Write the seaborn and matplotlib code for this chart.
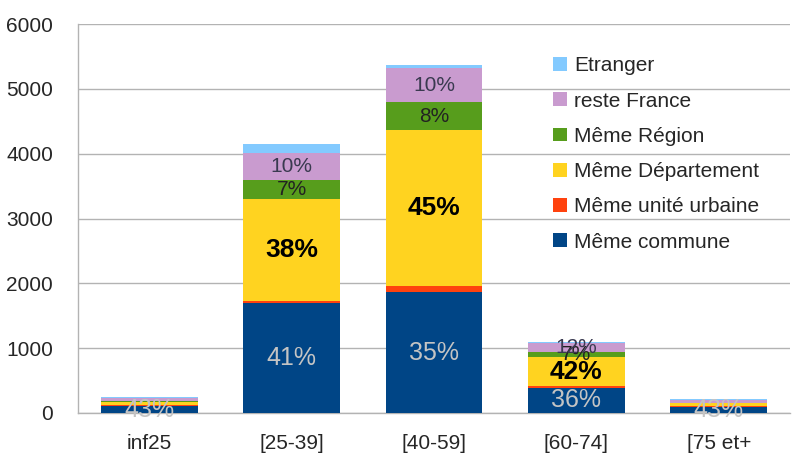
import numpy as np
import pandas as pd
import seaborn as sns
import matplotlib.pyplot as plt

sns.set_style("white")
plt.rcParams['font.family'] = ['Liberation Sans', 'DejaVu Sans']

# data
categories = ["inf25", "[25-39]", "[40-59]", "[60-74]", "[75 et+"]
commune = [106, 1700, 1860, 390, 93]
urbaine = [15, 30, 100, 22, 10]
departement = [55, 1575, 2400, 455, 45]
region = [12, 290, 430, 75, 10]
reste = [50, 415, 530, 130, 50]
etranger = [9, 140, 50, 20, 8]

series = ["Même commune", "Même unité urbaine", "Même Département",
          "Même Région", "reste France", "Etranger"]
values = [commune, urbaine, departement, region, reste, etranger]
colors = ["#004586", "#ff420e", "#ffd320", "#579d1c", "#c99bcf", "#83caff"]

df = pd.DataFrame(dict(zip(series, values)), index=categories)
totals = df.sum(axis=1)

# label style per series (None = no label)
lab_style = {
    "Même commune": dict(color="#c4c4c4", fontsize=18),
    "Même Département": dict(color="black", fontsize=19, fontweight="bold"),
    "Même Région": dict(color="#222222", fontsize=15),
    "reste France": dict(color="#3a3a50", fontsize=15),
}

fig = plt.figure(figsize=(7.93, 4.57), dpi=100)
ax = fig.add_axes([78 / 793, 44 / 457, 712 / 793, 389 / 457])

bottom = np.zeros(len(categories))
for name, col in zip(series, colors):
    vals = df[name].values
    sns.barplot(x=categories, y=vals, bottom=bottom, color=col, width=0.68,
                saturation=1, linewidth=0, ax=ax, label=name, zorder=3)
    if name in lab_style:
        for i, v in enumerate(vals):
            if name != "Même commune" and v < 60:
                continue
            pct = "%d%%" % round(100 * v / totals.iloc[i])
            ax.text(i, bottom[i] + v / 2, pct, ha="center", va="center",
                    zorder=5, **lab_style[name])
    bottom = bottom + vals

ax.set_xlim(-0.5, 4.5)
ax.set_ylim(0, 6000)
ax.set_yticks(range(0, 6001, 1000))
ax.yaxis.grid(True, color="#b3b3b3", lw=1, zorder=0)
ax.set_axisbelow(True)
for s in ["top", "right"]:
    ax.spines[s].set_visible(False)
for s in ["left", "bottom"]:
    ax.spines[s].set_color("#b3b3b3")
    ax.spines[s].set_linewidth(1)

ax.tick_params(axis="y", length=7, color="#b3b3b3", labelsize=15, pad=11)
ax.tick_params(axis="x", which="major", length=0, labelsize=15, pad=15)
ax.set_xticks([0.5, 1.5, 2.5, 3.5], minor=True)
ax.tick_params(axis="x", which="minor", length=8, color="#b3b3b3", direction="out")

handles, labels = ax.get_legend_handles_labels()
ax.legend(handles[::-1], labels[::-1], loc="upper left", frameon=False,
          bbox_to_anchor=(545 / 793, 1 - 48 / 457), bbox_transform=fig.transFigure,
          fontsize=15, handlelength=0.65, handleheight=0.65, handletextpad=0.35,
          labelspacing=0.78, borderaxespad=0)

fig.savefig("out.png", dpi=100)
